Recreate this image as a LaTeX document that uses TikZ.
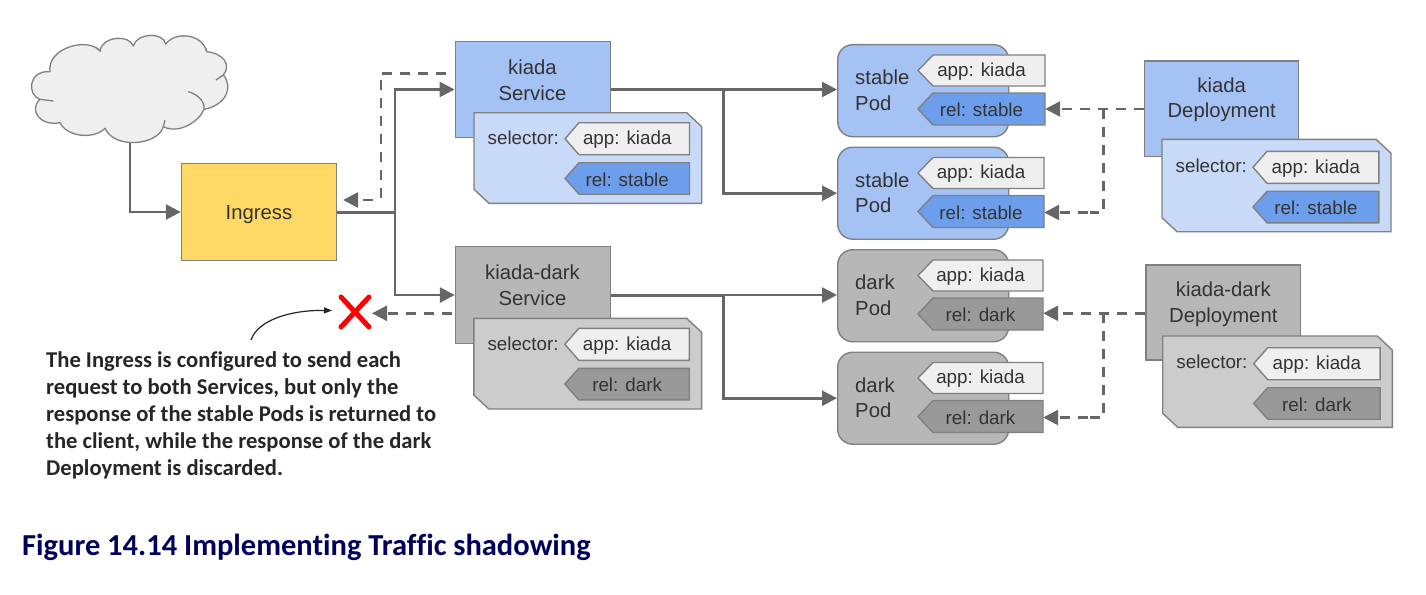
\documentclass[tikz,border=0pt]{standalone}
\usepackage{fontspec}
\setmainfont{Liberation Sans}
\newfontfamily\notefont[Ligatures=NoCommon]{Carlito}
\usetikzlibrary{arrows.meta,calc}
\definecolor{edgegrey}{HTML}{666666}
\definecolor{bordergrey}{HTML}{808080}
\definecolor{inkgrey}{HTML}{333333}
\definecolor{svcblue}{HTML}{A4C2F4}
\definecolor{selblue}{HTML}{C9DAF8}
\definecolor{relblue}{HTML}{6D9EEB}
\definecolor{svcgrey}{HTML}{B7B7B7}
\definecolor{selgrey}{HTML}{CCCCCC}
\definecolor{relgrey}{HTML}{999999}
\definecolor{appgrey}{HTML}{EFEFEF}
\definecolor{ingressyellow}{HTML}{FFD966}
\definecolor{navy}{HTML}{00005A}
\tikzset{
  base/.style={draw=bordergrey,line width=1.4pt,line join=miter},
  boxlabel/.style={text=inkgrey,align=center,inner sep=0pt,font=\fontsize{20.3}{25.5}\selectfont},
  smalllabel/.style={text=inkgrey,inner sep=0pt,font=\fontsize{18.8}{22}\selectfont},
  podlabel/.style={text=inkgrey,align=left,anchor=west,inner sep=0pt,font=\fontsize{20.3}{25.5}\selectfont},
  podbox/.style={base,rounded corners=15pt,inner sep=0pt,minimum width=171pt,minimum height=92pt},
  rectbox/.style={base,inner sep=0pt},
  tagtext/.style={smalllabel,minimum width=0pt},
  conn/.style={draw=edgegrey,line width=2.6pt,line join=miter,-{Triangle[length=15pt,width=15pt]}},
  plainline/.style={draw=edgegrey,line width=3pt},
  dashline/.style={draw=edgegrey,line width=2.6pt,line join=miter,dash pattern=on 10pt off 8pt},
  dasharrow/.style={dashline,-{Triangle[length=15pt,width=15pt]}},
}
% tag: name, tip x, notch x, right x, top y, bottom y, fill, text (in the current shift)
\newcommand{\Tag}[8]{%
  \path[base,fill=#7] (#2,{(#5+#6)/2}) -- (#3,#5) -- (#4,#5) -- (#4,#6) -- (#3,#6) -- cycle;
  \node[tagtext,minimum width={(#4-#2)*1pt},minimum height={(#6-#5)*1pt}] (#1) at ({(#2+#4)/2},{(#5+#6)/2+1}) {#8};
}
% selector: prefix, origin x, origin y, width, height, fill, rel fill, rel text, tag y offset
\newcommand{\Sel}[9]{%
  \begin{scope}[shift={(#2,#3)}]
  \path[base,fill=#6] (0,0) -- ({#4-15},0) -- (#4,14) -- (#4,#5) -- (15,#5) -- (0,{#5-14}) -- cycle;
  \node[smalllabel,anchor=west] (#1lab) at (13.5,{25+#9*0.6}) {selector:};
  \begin{scope}[shift={(0,#9)}]
  \pgfmathsetmacro{\tagright}{#4-12.2}
  \Tag{#1app}{91}{105}{\tagright}{10}{42}{appgrey}{app: kiada}
  \Tag{#1rel}{91}{105}{\tagright}{50}{81.5}{#7}{#8}
  \end{scope}
  \end{scope}
}
% pod: name, top y, fill, rel fill, word, rel text, right x of tags
\newcommand{\Pod}[7]{%
  \node[podbox,fill=#3,anchor=north west] (#1) at (837,#2) {};
  \node[podlabel] (#1lab) at (855,{#2+46}) {#5\\Pod};
  \begin{scope}[shift={(0,#2)}]
  \Tag{#1app}{918}{933}{#7}{11}{42}{appgrey}{app: kiada}
  \Tag{#1rel}{918}{933}{#7}{49}{81}{#4}{#6}
  \end{scope}
}
\begin{document}
\begin{tikzpicture}[x=1pt,y=-1pt]
\useasboundingbox (0,0) rectangle (1426,594);
% cloud
\begin{scope}[x=0.33333pt,y=-0.33333pt,shift={(0,60)}]
\path[draw=bordergrey,line width=1.3pt,fill=appgrey,line join=round]
 (150,155) .. controls (140,85) and (260,50) .. (300,92)
 .. controls (310,45) and (390,45) .. (400,78)
 .. controls (410,38) and (490,35) .. (497,72)
 .. controls (530,30) and (610,45) .. (620,95)
 .. controls (670,100) and (695,135) .. (670,165)
 .. controls (700,200) and (680,255) .. (612,268)
 .. controls (600,300) and (540,345) .. (490,320)
 .. controls (475,375) and (345,390) .. (315,325)
 .. controls (280,360) and (200,350) .. (180,308)
 .. controls (120,320) and (85,270) .. (120,238)
 .. controls (80,225) and (85,150) .. (150,155) -- cycle;
\draw[bordergrey,line width=1.3pt] (565,215) .. controls (600,225) and (615,250) .. (612,268);
\draw[bordergrey,line width=1.3pt] (495,300) -- (490,320);
\draw[bordergrey,line width=1.3pt] (648,180) -- (670,165);
\draw[bordergrey,line width=1.3pt] (120,238) -- (160,243);
\draw[bordergrey,line width=1.3pt] (290,85) -- (303,94);
\draw[bordergrey,line width=1.3pt] (620,95) -- (618,85);
\coordinate (cloudbottom) at (390,368);
\end{scope}
% ingress
\node[rectbox,fill=ingressyellow,minimum width=155pt,minimum height=97pt,text=inkgrey,text height=14pt,text depth=0pt,font=\fontsize{20.3}{24}\selectfont] (ingress) at (259,212) {Ingress};
% connector coordinates
\coordinate (jin) at (395,212);
\coordinate (jback) at (381,200);
\coordinate (backtip) at (343,200);
\coordinate (backstart) at (446,73.3);
\coordinate (jbacktop) at (381,73.3);
\coordinate (xmark) at (355,312);
\coordinate (darkback) at (452,313.3);
% services
\node[rectbox,fill=svcblue,minimum width=155.5pt,minimum height=95.5pt] (svc) at (533,89.5) {};
\node[boxlabel] (svclab) at (532.5,80) {kiada\\Service};
\Sel{svcsel}{474}{112.7}{227.7}{90.6}{selblue}{relblue}{rel: stable}{0}
\node[rectbox,fill=svcgrey,minimum width=155pt,minimum height=96.5pt] (dsvc) at (533,295) {};
\node[boxlabel] (dsvclab) at (532.5,285.3) {kiada-dark\\Service};
\Sel{dsvcsel}{473.8}{318.3}{227.8}{90.7}{selgrey}{relgrey}{rel: dark}{0}
% pods
\Pod{podA}{44}{svcblue}{relblue}{stable}{rel: stable}{1045}
\Pod{podB}{146.5}{svcblue}{relblue}{stable}{rel: stable}{1044}
\Pod{podC}{249}{svcgrey}{relgrey}{dark}{rel: dark}{1043}
\Pod{podD}{351.5}{svcgrey}{relgrey}{dark}{rel: dark}{1043}
% deployments
\node[rectbox,fill=svcblue,minimum width=153.6pt,minimum height=95.7pt] (dep) at (1221.5,108.8) {};
\node[boxlabel] (deplab) at (1221.7,100) {kiada\\Deployment};
\Sel{depsel}{1162}{139.3}{229}{92.4}{selblue}{relblue}{rel: stable}{2}
\node[rectbox,fill=svcgrey,minimum width=154.7pt,minimum height=95pt] (ddep) at (1223.3,312.5) {};
\node[boxlabel] (ddeplab) at (1223.3,304.2) {kiada-dark\\Deployment};
\Sel{ddepsel}{1162.7}{336}{229.6}{91.3}{selgrey}{relgrey}{rel: dark}{1.7}
% connectors
\coordinate (jsvc) at (723.3,89.5);
\coordinate (jdsvc) at (723.3,295);
\coordinate (jdep) at (1103.7,109);
\coordinate (jddep) at (1103.7,313.3);
\coordinate (cloudin) at (cloudbottom |- ingress.west);
\draw[conn] (cloudbottom) -- (cloudin) -- (ingress.west);
\draw[plainline] (ingress.east) -- (jin);
\draw[conn] (jin) |- (svc.west);
\draw[conn] (jin) |- (dsvc.west);
\draw[dashline] (backstart) -- (jbacktop) -- (jback);
\draw[dasharrow] ($(jback)+(-8,0)$) -- (backtip);
\draw[plainline] (svc.east) -- (jsvc);
\draw[conn] (jsvc) -- (podA.west |- jsvc);
\draw[conn] (jsvc) |- (podB.west);
\draw[plainline] (dsvc.east) -- (jdsvc);
\draw[conn] (jdsvc) -- (podC.west |- jdsvc);
\draw[conn] (jdsvc) |- (podD.west);
\draw[dasharrow] (dep.west |- jdep) -- (podArel.east |- jdep);
\draw[dashline] (jdep) -- (jdep |- podBrel.east) -- ++(-14,0);
\draw[dasharrow] ($(jdep |- podBrel.east)+(-16,0)$) -- (podBrel.east);
\draw[dasharrow] (ddep.west |- jddep) -- (podCrel.east |- jddep);
\draw[dashline] (jddep) -- (jddep |- podDrel.east) -- ++(-14,0);
\draw[dasharrow] ($(jddep |- podDrel.east)+(-16,0)$) -- (podDrel.east);
\draw[dasharrow] (darkback) -- ($(xmark)+(17,1.3)$);
% red cross
\draw[red,line width=5pt,line cap=round] ($(xmark)+(-14,-15)$) -- ($(xmark)+(14,15)$);
\draw[red,line width=5pt,line cap=round] ($(xmark)+(14,-15)$) -- ($(xmark)+(-14,15)$);
% note
\node[anchor=north west,align=left,inner sep=0pt,text=black!85,font=\notefont\bfseries\fontsize{22.6}{27}\selectfont] (note) at (46,351.5) {The Ingress is configured to send each\\request to both Services, but only the\\response of the stable Pods is returned to\\the client, while the response of the dark\\Deployment is discarded.};
\coordinate (notearrow) at (251,340);
\draw[black!85,line width=1.2pt,-{Triangle[length=8pt,width=6pt]}] (notearrow) .. controls (258,320) and (290,310) .. ($(xmark)+(-23,-1.5)$);
% caption
\node[anchor=west,inner sep=0pt,text=navy,font=\notefont\bfseries\fontsize{30.5}{36}\selectfont] (caption) at (22,547) {Figure 14.14 Implementing Traffic shadowing};
\end{tikzpicture}
\end{document}
